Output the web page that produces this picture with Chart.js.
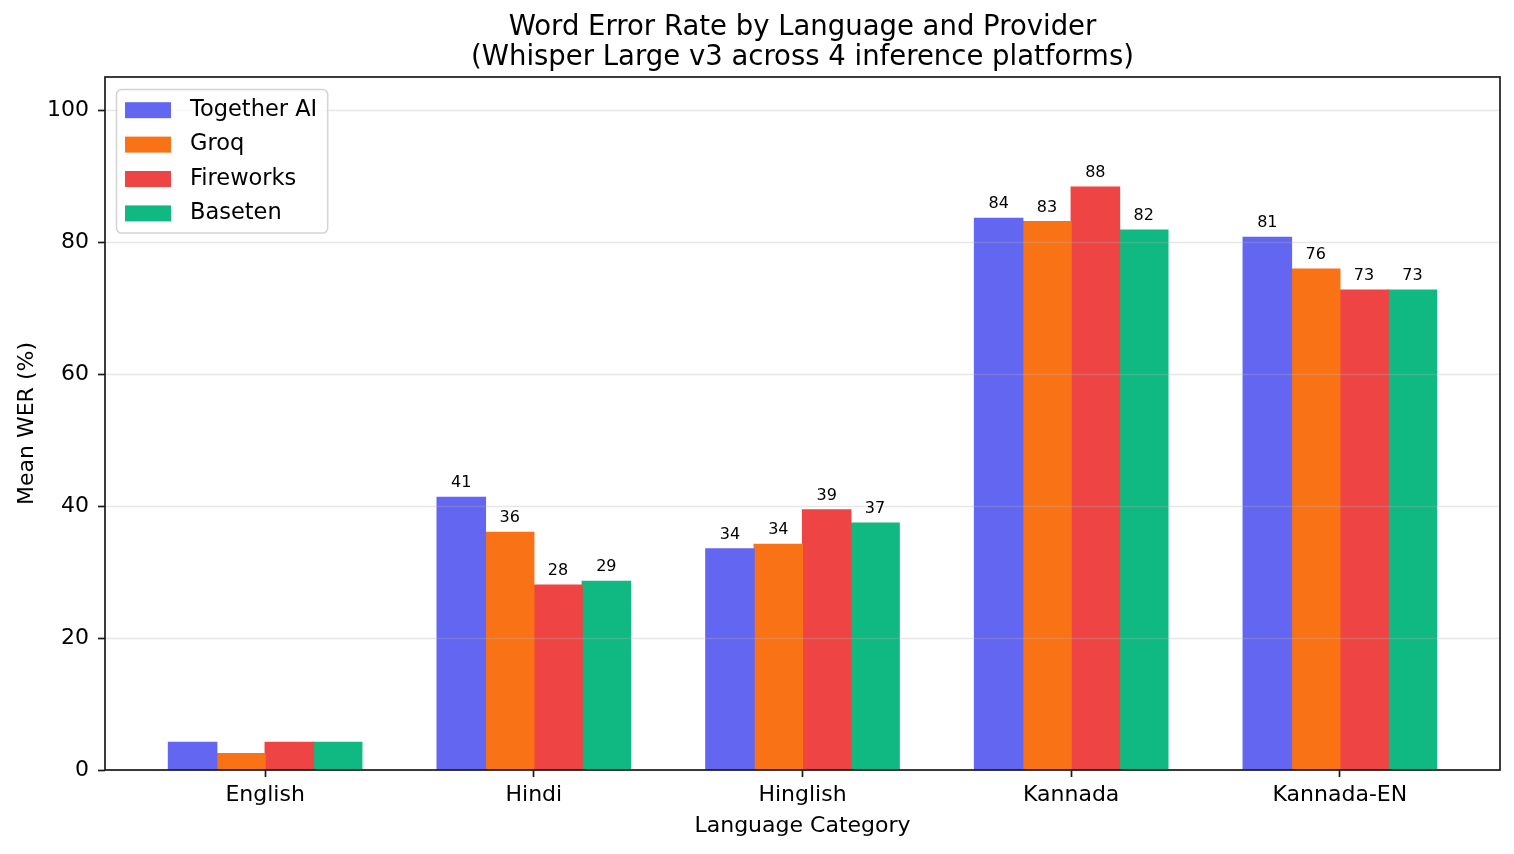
<!DOCTYPE html>
<html>
<head>
<meta charset="utf-8">
<script src="https://cdn.jsdelivr.net/npm/chart.js@4.4.1/dist/chart.umd.min.js"></script>
<style>
  body { margin: 0; background: #fff; }
  #wrap { width: 1514px; height: 854px; }
</style>
</head>
<body>
<div id="wrap"><canvas id="werChart"></canvas></div>
<script>
var categories = ['English', 'Hindi', 'Hinglish', 'Kannada', 'Kannada-EN'];
var providers = ['Together AI', 'Groq', 'Fireworks', 'Baseten'];
var togetherWer = [4.2, 41.3, 33.5, 83.6, 80.7];
var groqWer = [2.5, 36.0, 34.2, 83.1, 75.9];
var fireworksWer = [4.2, 28.0, 39.4, 88.3, 72.7];
var basetenWer = [4.2, 28.6, 37.4, 81.8, 72.7];
var yTicks = [0, 20, 40, 60, 80, 100];

var colors = ['#6366f1', '#f97316', '#ef4444', '#10b981'];
var FONT = '"DejaVu Sans", sans-serif';

function toPoints(values) {
    return values.map(function(v, i) { return { x: i, y: v }; });
}

// grid above the bars, then a closed frame, then value labels
var overlayPlugin = {
    id: 'overlay',
    afterDatasetsDraw: function(chart) {
        var ctx = chart.ctx;
        var area = chart.chartArea;
        var yScale = chart.scales.y;
        ctx.save();
        ctx.strokeStyle = 'rgba(176,176,176,0.3)';
        ctx.lineWidth = 1.6;
        yTicks.forEach(function(t) {
            var py = Math.round(yScale.getPixelForValue(t)) + 0.5;
            ctx.beginPath();
            ctx.moveTo(area.left, py);
            ctx.lineTo(area.right, py);
            ctx.stroke();
        });

        // bar labels
        ctx.fillStyle = '#000';
        ctx.font = '16px ' + FONT;
        ctx.textAlign = 'center';
        ctx.textBaseline = 'alphabetic';
        chart.data.datasets.forEach(function(ds, di) {
            var meta = chart.getDatasetMeta(di);
            meta.data.forEach(function(bar, i) {
                var v = ds.data[i].y;
                if (v < 5) return;
                ctx.fillText(Math.round(v).toString(), bar.x, bar.y - 10);
            });
        });

        ctx.strokeStyle = '#1a1a1a';
        ctx.lineWidth = 1.7;
        ctx.strokeRect(area.left, area.top, area.right - area.left, area.bottom - area.top);
        ctx.restore();
    },
    afterDraw: function(chart) {
        var ctx = chart.ctx;
        var area = chart.chartArea;
        ctx.save();
        ctx.font = '22.5px ' + FONT;
        var maxW = 0;
        chart.data.datasets.forEach(function(ds) {
            maxW = Math.max(maxW, ctx.measureText(ds.label).width);
        });
        var bx = area.left + 11, by = area.top + 12;
        var rowH = 34.4;
        var bw = 9 + 46 + 19 + maxW + 10;
        var bh = rowH * chart.data.datasets.length + 6;
        ctx.beginPath();
        ctx.roundRect(bx + 0.5, by + 0.5, bw, bh, 5);
        ctx.fillStyle = 'rgba(255,255,255,0.8)';
        ctx.fill();
        ctx.strokeStyle = '#d3d3d3';
        ctx.lineWidth = 1.5;
        ctx.stroke();
        chart.data.datasets.forEach(function(ds, i) {
            var cy = by + 4 + rowH * (i + 0.5);
            ctx.fillStyle = ds.backgroundColor;
            ctx.fillRect(bx + 9, cy - 8, 46, 16);
            ctx.fillStyle = '#000';
            ctx.textBaseline = 'middle';
            ctx.textAlign = 'left';
            ctx.fillText(ds.label, bx + 9 + 46 + 19, cy);
        });
        ctx.restore();
    }
};

var ctx = document.getElementById('werChart').getContext('2d');
var werChart = new Chart(ctx, {
    type: 'bar',
    data: {
        datasets: [
            { label: providers[0], data: toPoints(togetherWer), backgroundColor: colors[0] },
            { label: providers[1], data: toPoints(groqWer), backgroundColor: colors[1] },
            { label: providers[2], data: toPoints(fireworksWer), backgroundColor: colors[2] },
            { label: providers[3], data: toPoints(basetenWer), backgroundColor: colors[3] }
        ]
    },
    options: {
        responsive: true,
        maintainAspectRatio: false,
        animation: false,
        categoryPercentage: 0.72,
        barPercentage: 1.0,
        elements: { bar: { borderWidth: 0, inflateAmount: 0.6 } },
        layout: { padding: { left: 0, right: 14, top: 0, bottom: 0 } },
        plugins: {
            legend: { display: false },
            tooltip: { enabled: false },
            title: {
                display: true,
                fullSize: false,
                text: ['Word Error Rate by Language and Provider',
                       '(Whisper Large v3 across 4 inference platforms)'],
                color: '#000',
                font: { family: FONT, size: 27.5, weight: 'normal', lineHeight: 30 / 27.5 },
                padding: { top: 13, bottom: 4 }
            }
        },
        scales: {
            x: {
                type: 'linear',
                min: -0.596,
                max: 4.596,
                offset: false,
                afterBuildTicks: function(scale) {
                    scale.ticks = categories.map(function(c, i) { return { value: i }; });
                },
                afterFit: function(scale) { scale.height = 84; },
                ticks: {
                    color: '#000',
                    font: { family: FONT, size: 22 },
                    padding: 5,
                    maxRotation: 0,
                    autoSkip: false,
                    callback: function(v) { return categories[v]; }
                },
                grid: {
                    offset: false,
                    drawOnChartArea: false,
                    drawTicks: true,
                    tickLength: 7,
                    tickColor: '#1a1a1a',
                    tickWidth: 1.7
                },
                border: { display: false },
                title: {
                    display: true,
                    text: 'Language Category',
                    color: '#000',
                    font: { family: FONT, size: 22, lineHeight: 1.2 },
                    padding: { top: 0, bottom: 15 }
                }
            },
            y: {
                min: 0,
                max: 105,
                afterBuildTicks: function(scale) {
                    scale.ticks = yTicks.map(function(t) { return { value: t }; });
                },
                afterFit: function(scale) { scale.width = 105; },
                ticks: {
                    color: '#000',
                    font: { family: FONT, size: 22 },
                    padding: 9
                },
                grid: {
                    drawOnChartArea: false,
                    drawTicks: true,
                    tickLength: 7,
                    tickColor: '#1a1a1a',
                    tickWidth: 1.7
                },
                border: { display: false },
                title: {
                    display: true,
                    text: 'Mean WER (%)',
                    color: '#000',
                    font: { family: FONT, size: 22, lineHeight: 1.2 },
                    padding: { top: 14, bottom: 0 }
                }
            }
        }
    },
    plugins: [overlayPlugin]
});
</script>
</body>
</html>
